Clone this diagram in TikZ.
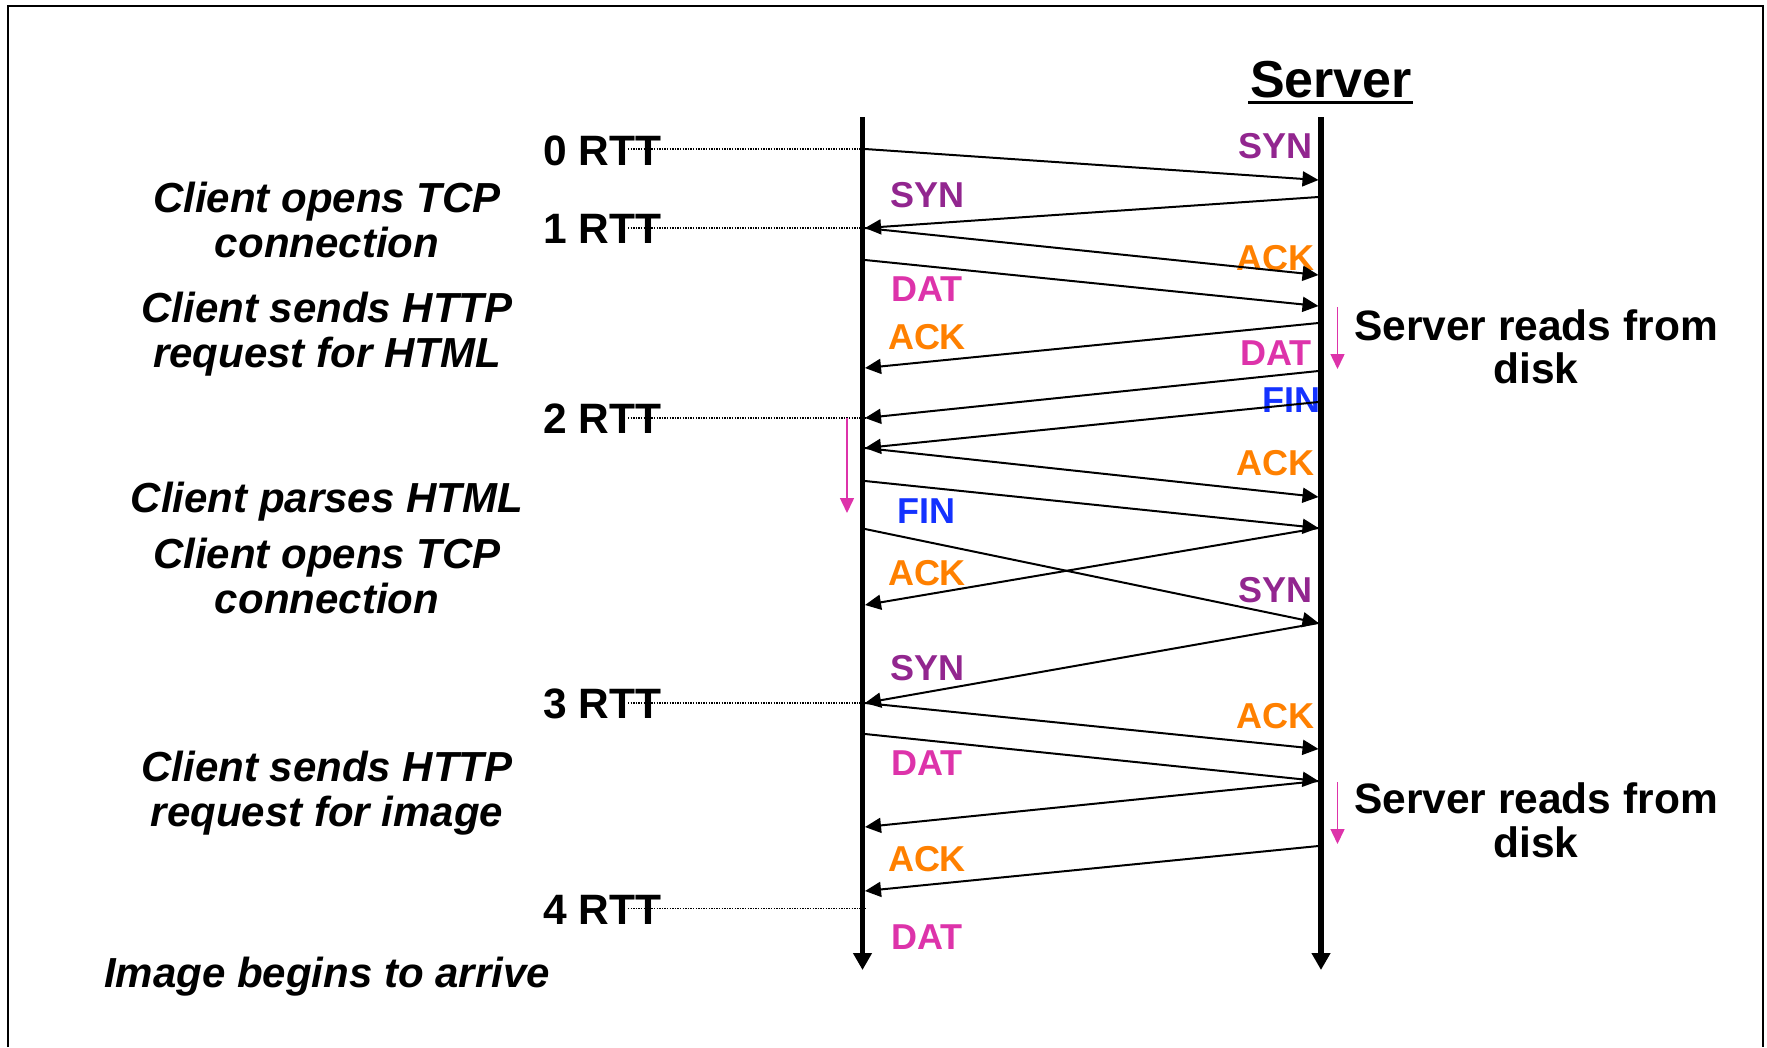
\documentclass[tikz,border=0pt]{standalone}
\usepackage{fontspec}
\setmainfont{Liberation Sans}
\usetikzlibrary{arrows.meta}
\definecolor{synC}{RGB}{146,38,143}
\definecolor{ackC}{RGB}{255,128,0}
\definecolor{datC}{RGB}{221,51,170}
\definecolor{finC}{RGB}{20,50,255}

\begin{document}
\begin{tikzpicture}[x=1pt,y=-1pt,
  every node/.style={inner sep=0pt, outer sep=0pt},
  timeline/.style={line width=5.5pt, -{Triangle[length=17pt,width=18pt]}},
  msg/.style={line width=2pt, -{Triangle[length=16pt,width=15pt]}},
  rttline/.style={line width=1.2pt, dash pattern=on 1.3pt off 1.3pt},
  busy/.style={line width=1.5pt, draw=datC, -{Triangle[length=15pt,width=14pt,fill=datC]}},
  rtt/.style={font=\fontsize{42.5}{46}\selectfont\bfseries, anchor=base west},
  note/.style={font=\fontsize{42}{45}\selectfont\bfseries\itshape, anchor=base},
  srvnote/.style={font=\fontsize{42.5}{46}\selectfont\bfseries, anchor=base},
  pkt/.style={font=\fontsize{36}{40}\selectfont\bfseries},
]
\useasboundingbox (0,0) rectangle (1767,1047);

% slide frame (runs off the bottom edge)
\draw[line width=2pt] (8,1047) -- (8,6) -- (1763,6) -- (1763,1047);

% title
\node[font=\fontsize{52}{56}\selectfont\bfseries, anchor=base] (srvtitle) at (1331,97) {Server};
\draw[line width=3.5pt] ([xshift=-2pt,yshift=-5.5pt]srvtitle.base west) -- ([xshift=1pt,yshift=-5.5pt]srvtitle.base east);

% time lines
\coordinate (ctop) at (862.5,117);
\coordinate (cbot) at (862.5,970);
\coordinate (srvtop) at (1321,117);
\coordinate (srvbot) at (1321,970);

% points on the client line
\coordinate (cA) at (865,149);
\coordinate (cB) at (865,228);
\coordinate (cC) at (865,260);
\coordinate (cD) at (865,368);
\coordinate (cE) at (865,418);
\coordinate (cF) at (865,448);
\coordinate (cG) at (865,481);
\coordinate (cH) at (865,529);
\coordinate (cI) at (865,605);
\coordinate (cJ) at (865,703);
\coordinate (cK) at (865,734);
\coordinate (cL) at (865,827);
\coordinate (cM) at (865,891);
\coordinate (cN) at (865,908.3);

% points on the server line
\coordinate (sA) at (1318.5,180);
\coordinate (sB) at (1318.5,197);
\coordinate (sC) at (1318.5,275);
\coordinate (sD) at (1318.5,306);
\coordinate (sE) at (1318.5,323);
\coordinate (sF) at (1318.5,371);
\coordinate (sG) at (1318.5,402);
\coordinate (sH) at (1318.5,497);
\coordinate (sI) at (1318.5,528);
\coordinate (sJ) at (1318.5,623);
\coordinate (sK) at (1318.5,749);
\coordinate (sL) at (1318.5,781);
\coordinate (sM) at (1318.5,846);

% RTT marks
\node[rtt] (r0) at (543,165) {0 RTT};
\node[rtt] (r1) at (543,243) {1 RTT};
\node[rtt] (r2) at (543,433) {2 RTT};
\node[rtt] (r3) at (543,718) {3 RTT};
\node[rtt] (r4) at (543,924) {4 RTT};
\coordinate (d0) at (628,149);
\coordinate (d1) at (628,228);
\coordinate (d2) at (628,418);
\coordinate (d3) at (628,703);
\coordinate (d4) at (628,908.3);
\draw[rttline] (d0) -- (cA);
\draw[rttline] (d1) -- (cB);
\draw[rttline] (d2) -- (cE);
\draw[rttline] (d3) -- (cJ);
\draw[rttline] (d4) -- (cN);

% client-side notes
\node[note] (n1a) at (327,212) {Client opens TCP};
\node[note] (n1b) at (327,257) {connection};
\node[note] (n2a) at (327,322) {Client sends HTTP};
\node[note] (n2b) at (327,367) {request for HTML};
\node[note] (n3)  at (327,512) {Client parses HTML};
\node[note] (n4a) at (327,568) {Client opens TCP};
\node[note] (n4b) at (327,613) {connection};
\node[note] (n5a) at (327,781) {Client sends HTTP};
\node[note] (n5b) at (327,826) {request for image};
\node[note] (n6)  at (327,987) {Image begins to arrive};

% server-side notes
\node[srvnote] (sv1a) at (1536,340) {Server reads from};
\node[srvnote] (sv1b) at (1536,383) {disk};
\node[srvnote] (sv2a) at (1536,813) {Server reads from};
\node[srvnote] (sv2b) at (1536,857) {disk};

% packet labels
\node[pkt, text=synC] (p1)  at (1275,146.5) {SYN};
\node[pkt, text=synC] (p2)  at (927,195) {SYN};
\node[pkt, text=ackC] (p3)  at (1275,258) {ACK};
\node[pkt, text=datC] (p4)  at (927,289) {DAT};
\node[pkt, text=ackC] (p5)  at (927,337) {ACK};
\node[pkt, text=datC] (p6)  at (1276,353) {DAT};
\node[pkt, text=finC] (p7)  at (1291,400) {FIN};
\node[pkt, text=ackC] (p8)  at (1275,463) {ACK};
\node[pkt, text=finC] (p9)  at (926,511) {FIN};
\node[pkt, text=ackC] (p11) at (927,573) {ACK};
\node[pkt, text=synC] (p10) at (1275,590) {SYN};
\node[pkt, text=synC] (p12) at (927,668) {SYN};
\node[pkt, text=ackC] (p13) at (1275,716) {ACK};
\node[pkt, text=datC] (p14) at (927,763) {DAT};
\node[pkt, text=ackC] (p15) at (927,859) {ACK};
\node[pkt, text=datC] (p16) at (927,937) {DAT};

% messages
\draw[msg] (cA) -- (sA);
\draw[msg] (sB) -- (cB);
\draw[msg] (cB) -- (sC);
\draw[msg] (cC) -- (sD);
\draw[msg] (sE) -- (cD);
\draw[msg] (sF) -- (cE);
\draw[msg] (sG) -- (cF);
\draw[msg] (cF) -- (sH);
\draw[msg] (cG) -- (sI);
\draw[msg] (cH) -- (sJ);
\draw[msg] (sI) -- (cI);
\draw[msg] (sJ) -- (cJ);
\draw[msg] (cJ) -- (sK);
\draw[msg] (cK) -- (sL);
\draw[msg] (sL) -- (cL);
\draw[msg] (sM) -- (cM);

% processing delays
\coordinate (bc0) at (847,418);
\coordinate (bc1) at (847,513);
\coordinate (bs0) at (1337.5,307);
\coordinate (bs1) at (1337.5,369);
\coordinate (bs2) at (1337.5,782);
\coordinate (bs3) at (1337.5,844);
\draw[busy] (bc0) -- (bc1);
\draw[busy] (bs0) -- (bs1);
\draw[busy] (bs2) -- (bs3);

% time lines on top
\draw[timeline] (ctop) -- (cbot);
\draw[timeline] (srvtop) -- (srvbot);
\end{tikzpicture}
\end{document}
